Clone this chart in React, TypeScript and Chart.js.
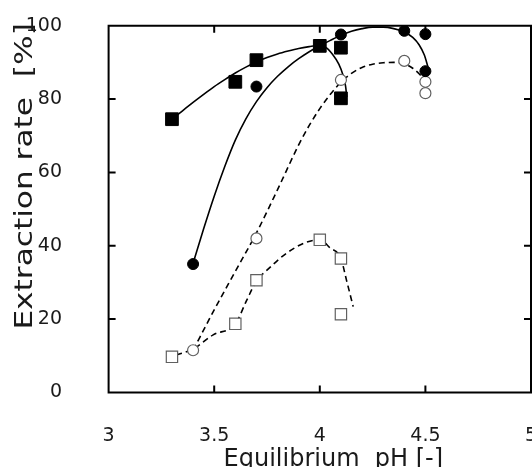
import React, { useEffect, useRef } from 'react';
import { Chart, registerables } from 'chart.js';

Chart.register(...registerables);

// ---- Data ----
const xTicks = [3, 3.5, 4, 4.5, 5];
const yTicks = [0, 20, 40, 60, 80, 100];
const xTitle = 'Equilibrium  pH [-]';
const yTitle = 'Extraction rate  [%]';

const filledSquares = [
  { x: 3.3, y: 74.5 }, { x: 3.6, y: 84.7 }, { x: 3.7, y: 90.6 },
  { x: 4.0, y: 94.5 }, { x: 4.1, y: 94.0 }, { x: 4.1, y: 80.2 },
];
const filledCircles = [
  { x: 3.4, y: 35.0 }, { x: 3.7, y: 83.4 }, { x: 4.1, y: 97.6 },
  { x: 4.4, y: 98.6 }, { x: 4.5, y: 97.7 }, { x: 4.5, y: 87.6 },
];
const openCircles = [
  { x: 3.4, y: 11.5 }, { x: 3.7, y: 42.0 }, { x: 4.1, y: 85.2 },
  { x: 4.4, y: 90.4 }, { x: 4.5, y: 84.7 }, { x: 4.5, y: 81.6 },
];
const openSquares = [
  { x: 3.3, y: 9.7 }, { x: 3.6, y: 18.7 }, { x: 3.7, y: 30.6 },
  { x: 4.0, y: 41.6 }, { x: 4.1, y: 36.5 }, { x: 4.1, y: 21.3 },
];

// fitted curves
const curveFilledSquares = [
  [3.3, 74.5], [3.35, 76.8], [3.4, 79.1], [3.45, 81.3], [3.5, 83.4], [3.55, 85.3],
  [3.6, 87.1], [3.65, 88.7], [3.7, 90.1], [3.75, 91.3], [3.8, 92.3], [3.85, 93.1],
  [3.9, 93.8], [3.95, 94.3], [3.99, 94.6], [4.03, 94.0], [4.06, 92.2], [4.09, 89.5],
  [4.11, 86.5], [4.122, 83.5], [4.128, 80.5],
];
const curveFilledCircles = [
  [3.4, 35.2], [3.45, 44.6], [3.5, 53.5], [3.55, 61.6], [3.6, 68.8], [3.65, 74.6],
  [3.7, 79.3], [3.75, 83.1], [3.8, 86.2], [3.85, 88.8], [3.9, 91.0], [3.95, 92.9],
  [4.0, 94.5], [4.05, 96.0], [4.1, 97.4], [4.15, 98.5], [4.2, 99.2], [4.25, 99.6],
  [4.3, 99.6], [4.35, 99.2], [4.4, 98.3], [4.44, 96.8], [4.47, 94.8], [4.495, 92.0],
  [4.512, 88.8],
];
const curveOpenCircles = [
  [3.4, 11.5], [3.5, 22.5], [3.6, 33.0], [3.7, 43.5], [3.8, 55.3], [3.9, 67.5],
  [3.95, 72.8], [4.0, 77.4], [4.05, 81.3], [4.1, 84.6], [4.15, 87.0], [4.2, 88.6],
  [4.25, 89.5], [4.3, 89.9], [4.35, 90.0], [4.4, 89.6], [4.44, 88.4], [4.47, 86.9],
  [4.485, 86.0],
];
const curveOpenSquares = [
  [3.32, 10.2], [3.4, 11.8], [3.495, 15.7], [3.6, 18.7], [3.653, 25.0], [3.7, 30.4],
  [3.755, 33.6], [3.834, 37.6], [3.929, 40.8], [4.0, 41.6], [4.047, 39.5], [4.1, 36.5],
  [4.126, 30.7], [4.158, 23.4],
];

const toXY = (arr: number[][]) => arr.map(([x, y]) => ({ x, y }));

const FONT = '"DejaVu Sans", Verdana, sans-serif';
const TEXT = '#1a1a1a';

const frameAndTitles = {
  id: 'frameAndTitles',
  beforeDatasetsDraw(chart: any) {
    const { ctx, chartArea: a, scales } = chart;
    const x = scales.x;
    const y = scales.y;
    const L = 7;
    ctx.save();
    ctx.strokeStyle = '#000';
    ctx.lineWidth = 2;
    ctx.beginPath();
    ctx.rect(a.left, a.top, a.right - a.left, a.bottom - a.top);
    x.ticks.forEach((t: any) => {
      const px = x.getPixelForValue(t.value);
      ctx.moveTo(px, a.bottom); ctx.lineTo(px, a.bottom - L);
      ctx.moveTo(px, a.top); ctx.lineTo(px, a.top + L);
    });
    y.ticks.forEach((t: any) => {
      const py = y.getPixelForValue(t.value);
      ctx.moveTo(a.left, py); ctx.lineTo(a.left + L, py);
      ctx.moveTo(a.right, py); ctx.lineTo(a.right - L, py);
    });
    ctx.stroke();
    ctx.restore();
  },
  afterDraw(chart: any) {
    const { ctx, chartArea: a } = chart;
    ctx.save();
    ctx.font = `24px ${FONT}`;
    ctx.fillStyle = TEXT;
    ctx.textBaseline = 'alphabetic';
    // x-axis title
    ctx.textAlign = 'center';
    ctx.fillText(xTitle, a.left + (a.right - a.left) * 0.532, chart.height - 1);
    // y-axis title (rotated, text slightly stretched like the original face)
    ctx.translate(31.5, a.top - 2.5);
    ctx.rotate(-Math.PI / 2);
    ctx.scale(1.3, 1);
    ctx.textAlign = 'right';
    ctx.fillText(yTitle, 0, 0);
    ctx.restore();
  },
};

const pointSet = (label: string, data: any[], style: string, r: number, fill: string, stroke: string, bw: number) => ({
  label, data, pointStyle: style, pointRadius: r, pointHoverRadius: r,
  backgroundColor: fill, borderColor: stroke, borderWidth: bw, showLine: false,
});
const curveSet = (label: string, data: any[], dashed: boolean) => ({
  label, data, showLine: true, pointRadius: 0, pointHoverRadius: 0,
  borderColor: '#000', borderWidth: 1.6, tension: 0.4, cubicInterpolationMode: 'monotone',
  fill: false, borderDash: dashed ? [6, 4] : [],
});

export default function App() {
  const ref = useRef<HTMLCanvasElement>(null);
  useEffect(() => {
    if (!ref.current) return;
    const chart = new Chart(ref.current, {
      type: 'scatter',
      data: {
        datasets: [
          pointSet('filled squares', filledSquares, 'rect', 9, '#000', '#000', 1),
          pointSet('filled circles', filledCircles, 'circle', 5.5, '#000', '#000', 1),
          pointSet('open circles', openCircles, 'circle', 5.5, '#fff', '#606060', 1.2),
          pointSet('open squares', openSquares, 'rect', 8, '#fff', '#606060', 1.2),
          curveSet('fit filled squares', toXY(curveFilledSquares), false),
          curveSet('fit filled circles', toXY(curveFilledCircles), false),
          curveSet('fit open circles', toXY(curveOpenCircles), true),
          curveSet('fit open squares', toXY(curveOpenSquares), true),
        ] as any,
      },
      options: {
        responsive: false,
        animation: false,
        layout: { autoPadding: false, padding: { top: 25.7, right: 1, bottom: 0, left: 19.1 } },
        plugins: { legend: { display: false }, tooltip: { enabled: false } },
        scales: {
          x: {
            type: 'linear', min: 3, max: 5,
            afterBuildTicks: (s: any) => { s.ticks = xTicks.map((v) => ({ value: v })); },
            afterFit: (s: any) => { s.height = 74.6; s.paddingLeft = 0; s.paddingRight = 0; },
            grid: { display: false, drawTicks: false, tickLength: 0 },
            border: { display: false },
            ticks: {
              font: { family: FONT, size: 19 }, color: TEXT, padding: 32.6,
              maxRotation: 0, autoSkip: false, callback: (v: any) => String(v),
            },
            title: { display: false },
          },
          y: {
            type: 'linear', min: 0, max: 100,
            afterBuildTicks: (s: any) => { s.ticks = yTicks.map((v) => ({ value: v })); },
            afterFit: (s: any) => { s.width = 89.5; s.paddingTop = 0; s.paddingBottom = 0; },
            grid: { display: false, drawTicks: false, tickLength: 0 },
            border: { display: false },
            ticks: {
              font: { family: FONT, size: 19 }, color: TEXT, padding: 46.6, crossAlign: 'near',
              autoSkip: false, callback: (v: any) => String(v),
            },
            title: { display: false },
          },
        },
      } as any,
      plugins: [frameAndTitles],
    });
    return () => chart.destroy();
  }, []);
  return (
    <canvas
      ref={ref}
      width={532}
      height={467}
      style={{ position: 'absolute', left: 0, top: 0, width: 532, height: 467, display: 'block' }}
    />
  );
}
